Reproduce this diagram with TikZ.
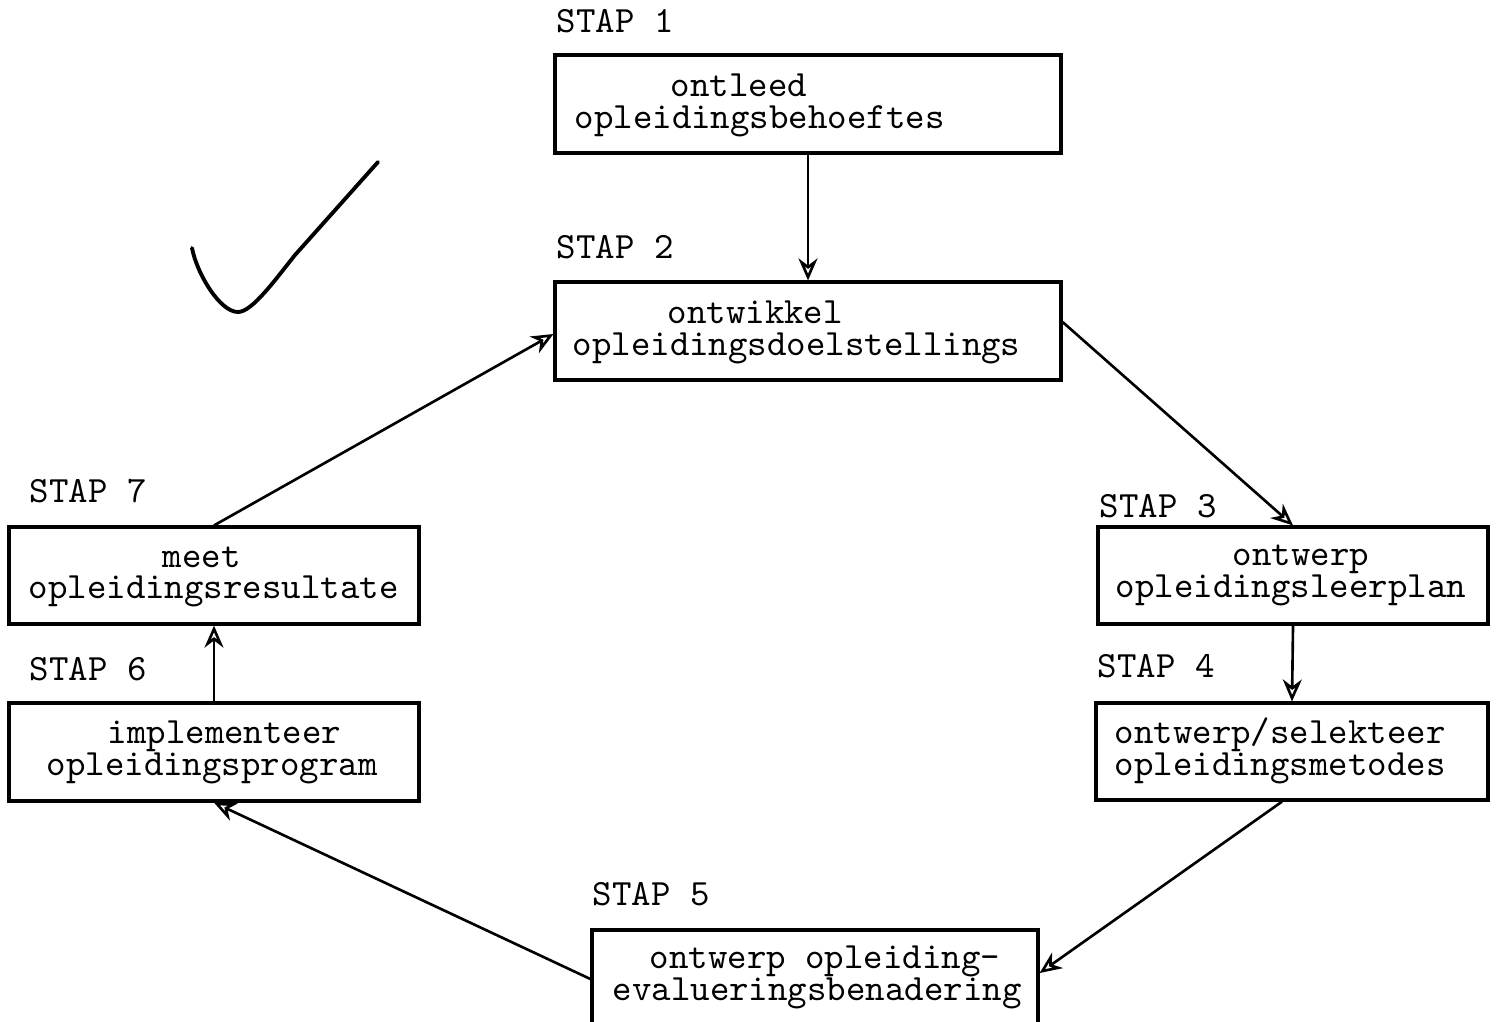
\documentclass[tikz,border=0pt]{standalone}
\usetikzlibrary{arrows.meta,calc}
\begin{document}
\begin{tikzpicture}[x=1cm,y=1cm,
  box/.style={draw, line width=0.9pt, inner sep=0pt, minimum width=#1},
  box/.default=5cm,
  txt/.style={anchor=base west, inner sep=0pt, font=\fontsize{10.55}{12}\ttfamily},
  arr/.style={line width=0.75pt, -{Stealth[length=2.2mm,width=1.9mm,open]}}]
\path[use as bounding box] (0,0) rectangle (14.96,-10.21);
\fill[white] (0,0) rectangle (14.96,-10.21);
\clip (0,0) rectangle (14.96,-10.21);

% boxes
\node[box=5.06cm, minimum height=0.98cm] (b1) at (8.08,-1.04) {};
\node[box=5.06cm, minimum height=0.98cm] (b2) at (8.08,-3.31) {};
\node[box=3.90cm, minimum height=0.97cm] (b3) at (12.93,-5.755) {};
\node[box=3.92cm, minimum height=0.97cm] (b4) at (12.92,-7.515) {};
\node[box=4.46cm, minimum height=0.98cm] (b5) at (8.15,-9.79) {};
\node[box=4.10cm, minimum height=0.98cm] (b6) at (2.14,-7.52) {};
\node[box=4.10cm, minimum height=0.97cm] (b7) at (2.14,-5.755) {};

% step labels
\node[txt] (s1) at (5.56,-0.32) {STAP 1};
\node[txt] (s2) at (5.56,-2.58) {STAP 2};
\node[txt] (s3) at (10.99,-5.17) {STAP 3};
\node[txt] (s4) at (10.97,-6.77) {STAP 4};
\node[txt] (s5) at (5.92,-9.05) {STAP 5};
\node[txt] (s6) at (0.29,-6.80) {STAP 6};
\node[txt] (s7) at (0.29,-5.02) {STAP 7};

% box texts
\node[txt] (t1a) at (6.70,-0.96) {ontleed};
\node[txt] (t1b) at (5.74,-1.28) {opleidingsbehoeftes};
\node[txt] (t2a) at (6.67,-3.23) {ontwikkel};
\node[txt] (t2b) at (5.72,-3.55) {opleidingsdoelstellings};
\node[txt] (t3a) at (12.32,-5.65) {ontwerp};
\node[txt] (t3b) at (11.15,-5.97) {opleidingsleerplan};
\node[txt] (t4a) at (11.14,-7.43) {ontwerp/selekteer};
\node[txt] (t4b) at (11.14,-7.75) {opleidingsmetodes};
\node[txt] (t5a) at (6.49,-9.68) {ontwerp opleiding-};
\node[txt] (t5b) at (6.12,-10.00) {evalueringsbenadering};
\node[txt] (t6a) at (1.07,-7.43) {implementeer};
\node[txt] (t6b) at (0.46,-7.75) {opleidingsprogram};
\node[txt] (t7a) at (1.62,-5.67) {meet};
\node[txt] (t7b) at (0.28,-5.98) {opleidingsresultate};

% connectors
\draw[arr] (b1.south) -- (b2.north);
\draw[arr] ($(b2.east)+(0,0.09)$) -- (b3.north);
\draw[arr] (b3.south) -- (b4.north);
\draw[arr] ($(b4.south)+(-0.1,0)$) -- ($(b5.east)+(0,0.06)$);
\draw[arr] (b5.west) -- (b6.south);
\draw[arr] (b6.north) -- (b7.south);
\draw[arr] (b7.north) -- ($(b2.west)+(0,-0.03)$);

% hand-drawn check mark
\draw[line width=1.1pt, line cap=round]
  (1.92,-2.48) .. controls (1.97,-2.74) and (2.20,-3.12) .. (2.38,-3.12)
  .. controls (2.52,-3.12) and (2.75,-2.80) .. (2.95,-2.55)
  -- (3.78,-1.62);
\end{tikzpicture}
\end{document}
